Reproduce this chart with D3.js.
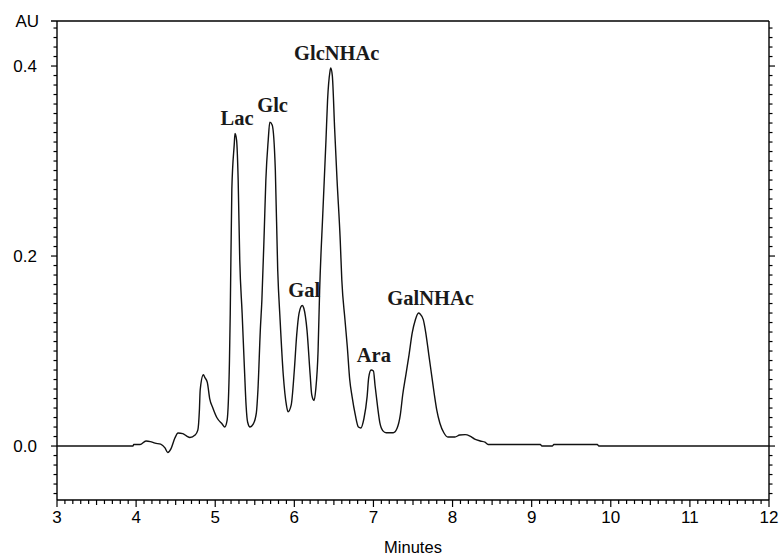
<!DOCTYPE html>
<html>
<head>
<meta charset="utf-8">
<script src="https://cdn.jsdelivr.net/npm/d3@7"></script>
<style>
  html, body { margin: 0; padding: 0; background: #fff; }
  svg { display: block; }
</style>
</head>
<body>
<script>
// ---- data (retention time in minutes, absorbance in AU) ----
const traceTime = [3.00,3.96,3.97,4.05,4.125,4.18,4.24,4.31,4.365,4.40,4.44,4.49,4.53,4.59,4.64,4.68,4.745,4.78,4.80,4.81,4.85,4.87,4.90,4.93,4.97,5.02,5.09,5.12,5.15,5.18,5.19,5.21,5.24,5.25,5.27,5.29,5.31,5.34,5.37,5.39,5.41,5.44,5.48,5.52,5.54,5.57,5.59,5.62,5.64,5.67,5.69,5.72,5.76,5.79,5.82,5.86,5.90,5.92,5.96,6.00,6.03,6.06,6.10,6.12,6.16,6.20,6.22,6.25,6.27,6.30,6.32,6.36,6.40,6.42,6.45,6.46,6.48,6.51,6.54,6.58,6.60,6.64,6.67,6.70,6.73,6.77,6.81,6.84,6.88,6.92,6.94,6.97,7.00,7.02,7.05,7.08,7.12,7.16,7.25,7.30,7.34,7.37,7.41,7.45,7.49,7.53,7.57,7.59,7.63,7.66,7.70,7.74,7.77,7.80,7.84,7.89,7.94,8.03,8.09,8.16,8.22,8.28,8.35,8.41,8.45,9.11,9.13,9.26,9.28,9.83,9.85,12.00];
const traceAU = [0,0,0.0016,0.0016,0.0053,0.0047,0.003,0.002,-0.002,-0.0068,-0.003,0.0084,0.0137,0.013,0.0105,0.009,0.0116,0.0168,0.038,0.059,0.075,0.072,0.067,0.05,0.04,0.03,0.023,0.02,0.027,0.09,0.14,0.27,0.317,0.329,0.322,0.28,0.196,0.14,0.08,0.043,0.025,0.02,0.023,0.035,0.059,0.122,0.154,0.227,0.28,0.322,0.341,0.338,0.29,0.185,0.133,0.075,0.043,0.036,0.043,0.08,0.117,0.14,0.148,0.145,0.122,0.075,0.054,0.048,0.059,0.10,0.164,0.245,0.322,0.364,0.394,0.398,0.39,0.333,0.28,0.217,0.175,0.133,0.104,0.07,0.052,0.033,0.02,0.019,0.029,0.052,0.072,0.08,0.079,0.064,0.043,0.025,0.016,0.014,0.014,0.019,0.033,0.054,0.075,0.096,0.119,0.133,0.14,0.139,0.133,0.12,0.096,0.072,0.054,0.038,0.024,0.014,0.0095,0.0095,0.0116,0.012,0.0105,0.0074,0.0053,0.004,0.0016,0.0016,0,0,0.0016,0.0016,0,0];

const peakNames = ["Lac","Glc","Gal","GlcNHAc","Ara","GalNHAc"];
const peakTime  = [5.25,5.70,6.10,6.46,6.98,7.57];
const peakAU    = [0.329,0.343,0.148,0.398,0.080,0.140];

const xMajorTicks = [3,4,5,6,7,8,9,10,11,12];
const yMajorTicks = [0.0,0.2,0.4];
const xLabel = "Minutes";
const yLabel = "AU";

// ---- layout ----
const W = 779, H = 555;
const svg = d3.select("body").append("svg").attr("width", W).attr("height", H);

const x = d3.scaleLinear().domain([3, 12]).range([57, 769]);
const y = d3.scaleLinear().domain([-0.0568, 0.4474]).range([500, 21]);

const g = svg.append("g");
const axisColor = "#000";

// minor ticks
const xMinor = d3.range(30, 121).map(d => d / 10);
const yMinor = d3.range(-5, 45).map(d => d / 100);

// frame
g.append("line").attr("x1", x(3)).attr("x2", x(3)).attr("y1", y.range()[1]).attr("y2", y.range()[0])
  .attr("stroke", axisColor).attr("stroke-width", 1.4);
g.append("line").attr("x1", x(12)).attr("x2", x(12)).attr("y1", y.range()[1]).attr("y2", y.range()[0])
  .attr("stroke", axisColor).attr("stroke-width", 1.4);
g.append("line").attr("x1", x(3) - 6).attr("x2", x(12)).attr("y1", y.range()[1]).attr("y2", y.range()[1])
  .attr("stroke", axisColor).attr("stroke-width", 1.4);
g.append("line").attr("x1", x(3)).attr("x2", x(12)).attr("y1", y.range()[0]).attr("y2", y.range()[0])
  .attr("stroke", axisColor).attr("stroke-width", 1.4);

// x ticks
g.selectAll("line.xt").data(xMinor).enter().append("line")
  .attr("class", "xt")
  .attr("x1", d => x(d)).attr("x2", d => x(d))
  .attr("y1", y.range()[0])
  .attr("y2", d => {
    const r = Math.round(d * 10);
    const len = (r % 10 === 0) ? 7 : (r % 5 === 0 ? 5 : 4);
    return y.range()[0] + len;
  })
  .attr("stroke", axisColor).attr("stroke-width", 1.2);

// y ticks left and right
const yTickLen = d => {
  const r = Math.round(d * 100);
  return (r % 20 === 0) ? 6 : 3.5;
};
g.selectAll("line.ytl").data(yMinor).enter().append("line")
  .attr("class", "ytl")
  .attr("x1", x(3)).attr("x2", d => x(3) - yTickLen(d))
  .attr("y1", d => y(d)).attr("y2", d => y(d))
  .attr("stroke", axisColor).attr("stroke-width", 1.2);
g.selectAll("line.ytr").data(yMinor).enter().append("line")
  .attr("class", "ytr")
  .attr("x1", x(12)).attr("x2", d => x(12) + yTickLen(d))
  .attr("y1", d => y(d)).attr("y2", d => y(d))
  .attr("stroke", axisColor).attr("stroke-width", 1.2);

// tick labels
const sans = "'Liberation Sans', Arial, sans-serif";
g.selectAll("text.xl").data(xMajorTicks).enter().append("text")
  .attr("class", "xl")
  .attr("x", d => x(d)).attr("y", 523)
  .attr("text-anchor", "middle")
  .attr("font-family", sans).attr("font-size", 17)
  .text(d => d3.format("d")(d));

g.selectAll("text.yl").data(yMajorTicks).enter().append("text")
  .attr("class", "yl")
  .attr("x", 37).attr("y", d => y(d) + 6)
  .attr("text-anchor", "end")
  .attr("font-family", sans).attr("font-size", 17)
  .text(d => d3.format(".1f")(d));

g.append("text").attr("x", 39).attr("y", 27).attr("text-anchor", "end")
  .attr("font-family", sans).attr("font-size", 17).text(yLabel);

g.append("text").attr("x", (x(3) + x(12)) / 2).attr("y", 553).attr("text-anchor", "middle")
  .attr("font-family", sans).attr("font-size", 16.5).text(xLabel);

// trace
const pts = traceTime.map((t, i) => [t, traceAU[i]]);
const line = d3.line().x(d => x(d[0])).y(d => y(d[1])).curve(d3.curveMonotoneX);
g.append("path").datum(pts)
  .attr("d", line)
  .attr("fill", "none")
  .attr("stroke", "#111")
  .attr("stroke-width", 1.4)
  .attr("stroke-linejoin", "round");

// peak labels
const serif = "'Liberation Serif', 'Times New Roman', serif";
g.selectAll("text.pk").data(peakNames).enter().append("text")
  .attr("class", "pk")
  .attr("x", (d, i) => x(peakTime[i]) + (d === "GlcNHAc" ? 6 : (d === "GalNHAc" ? 12 : 2)))
  .attr("y", (d, i) => y(peakAU[i]) - 8)
  .attr("text-anchor", "middle")
  .attr("font-family", serif).attr("font-weight", "bold").attr("font-size", 20.5)
  .attr("fill", "#1a1a1a")
  .text(d => d);
</script>
</body>
</html>
